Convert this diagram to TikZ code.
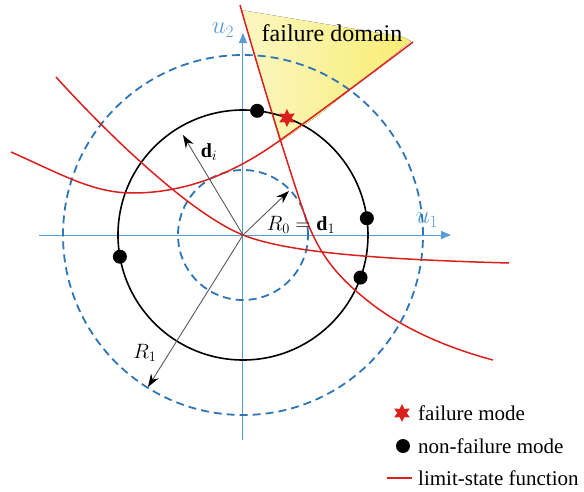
\documentclass[tikz,border=0pt]{standalone}
\usepackage{fontspec}
\setmainfont{Liberation Serif}
\usepackage{tikz}
\usetikzlibrary{shapes.geometric, arrows.meta, positioning, calc}
\definecolor{axisblue}{RGB}{91,155,213}
\definecolor{dashblue}{RGB}{46,117,182}
\definecolor{lsfred}{RGB}{218,32,28}
\definecolor{fdyellow}{RGB}{246,232,80}
\begin{document}
\begin{tikzpicture}[
  x=1pt, y=1pt,
  axis/.style={draw=axisblue, line width=1pt, -{Triangle[length=10pt, width=8pt]}},
  ring/.style={draw=dashblue, line width=1.8pt, dash pattern=on 8pt off 5pt},
  mid/.style={draw=black, line width=1.6pt},
  lsf/.style={draw=lsfred, line width=1.5pt},
  vec/.style={draw=black!65, line width=0.9pt, -{Stealth[length=13pt, width=9pt, color=black]}},
  dot/.style={circle, fill=black, minimum size=14pt, inner sep=0pt},
  fmode/.style={star, star points=6, star point ratio=1.9, fill=lsfred, minimum size=18pt, inner sep=0pt},
  lbl/.style={font=\fontsize{20}{24}\selectfont, inner sep=1pt},
  leg/.style={font=\fontsize{21}{25}\selectfont, anchor=west, inner sep=0pt},
]
\useasboundingbox (-243,-256) rectangle (341,235);

%% Failure domain
\fill[left color=fdyellow!35, right color=fdyellow!80]
  (-2,225) -- (22,145) -- (37,93) -- (77,121) -- (168,194) -- (160,198) -- cycle;

%% Axes
\coordinate (O) at (0,0);
\coordinate (xs) at (-204,0);
\coordinate (xe) at (208,0);
\coordinate (ys) at (0,-205);
\coordinate (ye) at (0,202);
\draw[axis] (xs) -- (xe);
\draw[axis] (ys) -- (ye);
\node[lbl, font=\fontsize{24}{28}\selectfont, text=axisblue] (u1) at (184,15) {$u_1$};
\node[lbl, font=\fontsize{24}{28}\selectfont, text=axisblue] (u2) at (-20,205) {$u_2$};

%% Circles
\draw[ring] (O) circle (65);
\draw[ring] (O) circle (180);
\draw[mid] (O) circle (125);

%% Limit-state functions
\draw[lsf] (-232,83) .. controls (-180,60) and (-150,42) .. (-110,42)
  .. controls (-50,42) and (0,68) .. (36,94)
  .. controls (70,118) and (120,155) .. (170,193);
\draw[lsf] (-3,230) .. controls (17,160) and (40,85) .. (60,25)
  .. controls (75,-20) and (95,-42) .. (125,-66)
  .. controls (160,-94) and (205,-113) .. (250,-125);
\draw[lsf] (-187,158) .. controls (-130,95) and (-50,20) .. (0,0)
  .. controls (40,-16) and (120,-24) .. (266,-28);

%% Radii
\coordinate (di) at (-60,100);
\coordinate (r0) at (46,44);
\coordinate (r1) at (-95,-152);
\draw[vec] (O) -- (di);
\draw[vec] (O) -- (r0);
\draw[vec] (O) -- (r1);
\node[lbl] (ldi) at (-34,83) {$\mathbf{d}_i$};
\node[lbl] (lr0) at (58,10) {$R_0=\mathbf{d}_1$};
\node[lbl] (lr1) at (-98,-118) {$R_1$};
\node[font=\fontsize{24}{28}\selectfont] (fd) at (89,202) {failure domain};

%% Modes
\node[dot] (n1) at (83.5:125) {};
\node[dot] (n2) at (7.7:125) {};
\node[dot] (n3) at (-19.9:125) {};
\node[dot] (n4) at (190:125) {};
\node[fmode] (f1) at (69.4:125) {};

%% Legend
\node[fmode] (kf) at (159,-178) {};
\node[dot] (kn) at (160,-211) {};
\coordinate (ka) at (144,-243);
\coordinate (kb) at (169,-243);
\draw[lsf] (ka) -- (kb);
\node[leg] (tf) at (175,-178) {failure mode};
\node[leg] (tn) at (175,-211) {non-failure mode};
\node[leg] (tl) at (175,-243) {limit-state function};
\end{tikzpicture}
\end{document}
